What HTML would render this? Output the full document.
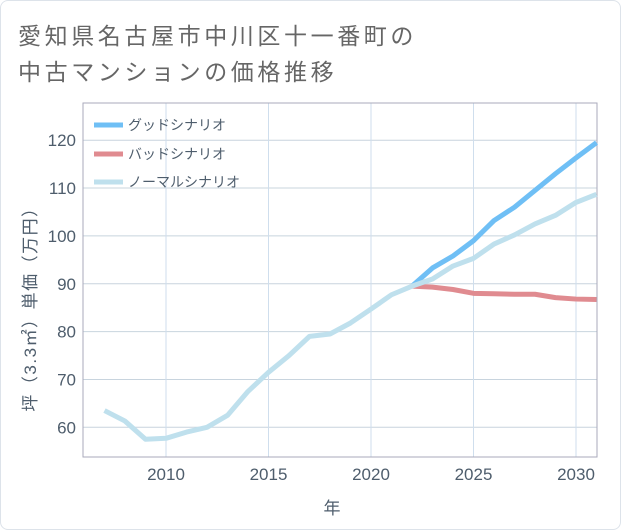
<!DOCTYPE html>
<html><head><meta charset="utf-8"><style>
body{margin:0;background:#fff;}
#card{position:relative;width:619px;height:528px;border:1px solid #dde3ea;border-radius:8px;background:#fff;overflow:hidden;font-family:"Liberation Sans","Noto Sans CJK JP",sans-serif;}
.title{position:absolute;left:17px;font-size:23px;letter-spacing:3.6px;color:#666;white-space:nowrap;}
</style></head><body>
<div id="card">
<div class="title" style="top:16px">愛知県名古屋市中川区十一番町の</div>
<div class="title" style="top:52px">中古マンションの価格推移</div>
<svg id="chart" width="621" height="530" style="position:absolute;left:-1px;top:-1px"></svg>
</div>
<script>
const years=[2007,2008,2009,2010,2011,2012,2013,2014,2015,2016,2017,2018,2019,2020,2021,2022,2023,2024,2025,2026,2027,2028,2029,2030,2031];
const normalVals=[63.5,61.3,57.5,57.7,59,60,62.5,67.5,71.5,75,79,79.5,81.8,84.7,87.7,89.5,91,93.7,95.3,98.3,100.2,102.5,104.3,107,108.7];
const goodYears=[2022,2023,2024,2025,2026,2027,2028,2029,2030,2031];
const goodVals=[89.5,93.3,95.8,99,103.2,106,109.5,113,116.3,119.5];
const badVals=[89.5,89.3,88.8,88,87.9,87.8,87.8,87.1,86.8,86.7];
const xTicks=[2010,2015,2020,2025,2030];
const yTicks=[60,70,80,90,100,110,120];
const NS="http://www.w3.org/2000/svg",svg=document.getElementById('chart');
const L=83,R=597,T=103,B=457;
const xs=y=>166+(y-2010)*20.5;
const ys=v=>427.3-(v-60)*4.785;
function mk(t,a,txt){const e=document.createElementNS(NS,t);for(const k in a)e.setAttribute(k,a[k]);if(txt!==undefined)e.textContent=txt;svg.appendChild(e);return e;}
const F='"Liberation Sans","Noto Sans CJK JP",sans-serif';
const TC='#4e5d6c';
yTicks.forEach(v=>{const g=mk('line',{x1:L,x2:R,y1:ys(v),y2:ys(v),stroke:'#c8d4de','stroke-width':1});

const t=mk('text',{x:76,y:ys(v)+6,'text-anchor':'end','font-size':17,fill:TC,'font-family':F},v);
});
xTicks.forEach(v=>{const g=mk('line',{x1:xs(v),x2:xs(v),y1:T,y2:B,stroke:'#cfdeed','stroke-width':1});

const t=mk('text',{x:xs(v),y:480,'text-anchor':'middle','font-size':17,fill:TC,'font-family':F},v);
});
const fr=mk('rect',{x:L,y:T,width:R-L,height:B-T,fill:'none',stroke:'#aab','stroke-width':1});

function line(xv,yv,c,name){const p=mk('polyline',{points:xv.map((x,i)=>xs(x)+','+ys(yv[i])).join(' '),fill:'none',stroke:c,'stroke-width':5,'stroke-linejoin':'round'});
}
line(goodYears,goodVals,'#6fbff5','good-scenario-line');
line(goodYears,badVals,'#e08b90','bad-scenario-line');
line(years,normalVals,'#bfe0ed','normal-scenario-line');
const leg=[['グッドシナリオ','#6fbff5',125],['バッドシナリオ','#e08b90',154],['ノーマルシナリオ','#bfe0ed',182]];
leg.forEach(l=>{const s=mk('line',{x1:94,x2:123,y1:l[2],y2:l[2],stroke:l[1],'stroke-width':5});

const t=mk('text',{x:128,y:l[2]+5,'font-size':14,fill:TC,'font-family':F},l[0]);
});
const xt=mk('text',{x:332,y:514,'text-anchor':'middle','font-size':17,fill:TC,'font-family':F},'年');

const yt=mk('text',{x:0,y:0,'text-anchor':'middle','font-size':17,'letter-spacing':'1.5',fill:TC,'font-family':F,transform:'translate(36,305) rotate(-90)'},'坪（3.3㎡）単価（万円）');

</script>
</body></html>
